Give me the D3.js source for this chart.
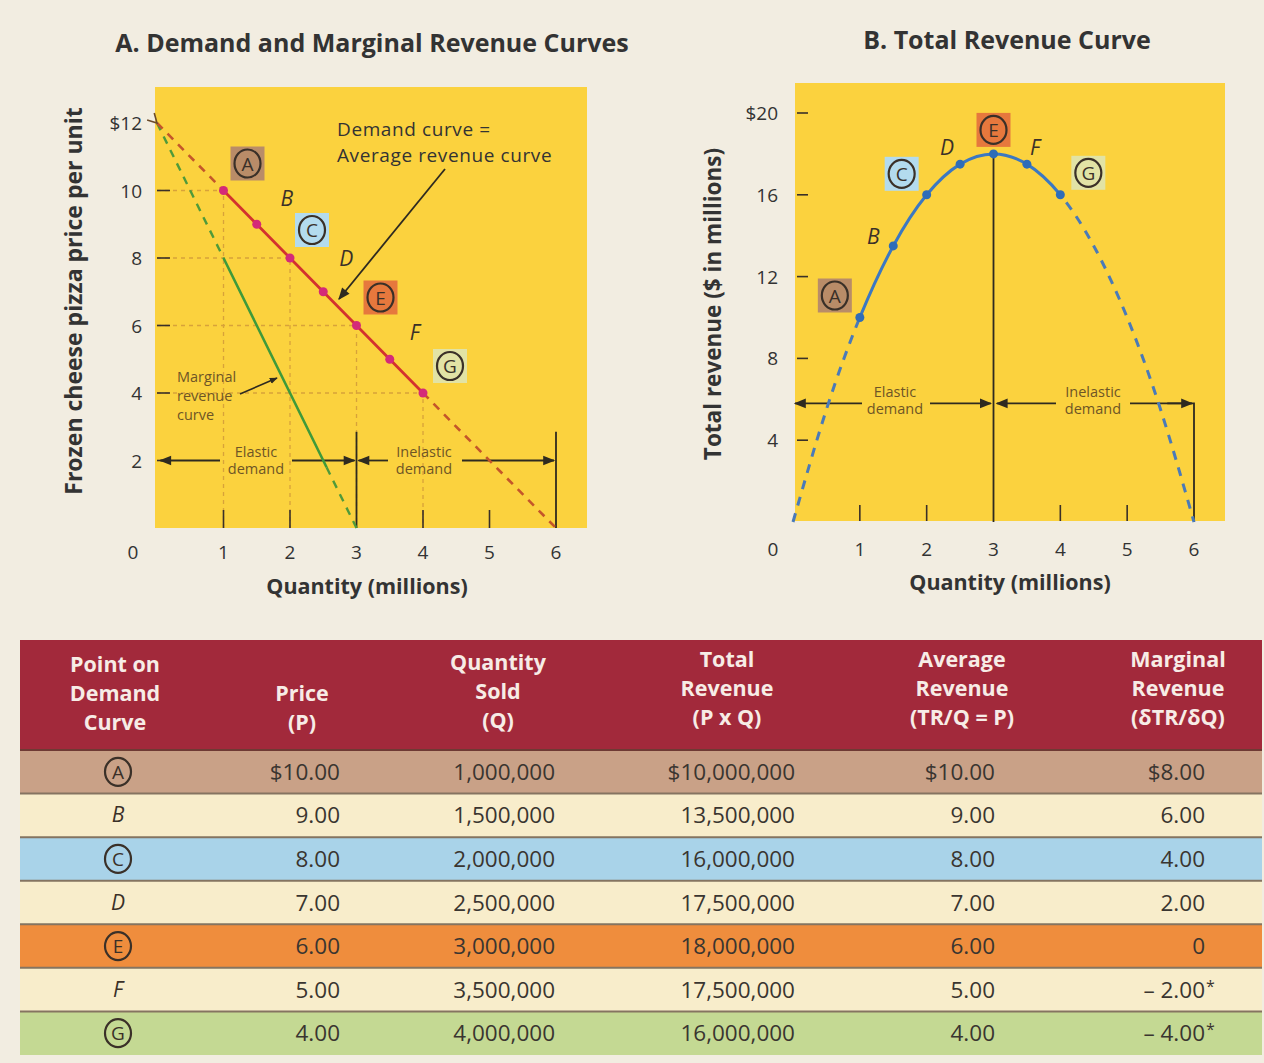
<!DOCTYPE html>
<meta charset="utf-8">
<head>
<script src="https://d3js.org/d3.v7.min.js"></script>
<style>
body { margin: 0; background: #f2ede1; }
svg { display: block; font-family: "Open Sans", Lato, sans-serif; }
</style>
</head>
<body>
<script>
pointNames = ["A", "B", "C", "D", "E", "F", "G"]
circled = [true, false, true, false, true, false, true]
quantity = [1, 1.5, 2, 2.5, 3, 3.5, 4]              // millions
price = [10, 9, 8, 7, 6, 5, 4]                       // $ per unit
totalRevenue = [10, 13.5, 16, 17.5, 18, 17.5, 16]    // $ millions
marginalRevenue = [8, 6, 4, 2, 0, -2, -4]

// dashed extensions of the straight lines
demandLeft = [[0, 12], [1, 10]]
demandRight = [[4, 4], [6, 0]]
mrLeft = [[0, 12], [1, 8]]
mrRight = [[2.55, 1.8], [3, 0]]
mrEnd = [2.55, 1.8]

// whole total revenue curve (dashed outside A..G)
trQuantity = [0, 0.5, 1, 1.5, 2, 2.5, 3, 3.5, 4, 4.5, 5, 5.5, 6]
trValues = [0, 5.5, 10, 13.5, 16, 17.5, 18, 17.5, 16, 13.5, 10, 5.5, 0]

priceTicks = [2, 4, 6, 8, 10, 12]
revenueTicks = [4, 8, 12, 16, 20]
qtyTicks = [1, 2, 3, 4, 5, 6]

headers = [
  ["Point on", "Demand", "Curve"],
  ["", "Price", "(P)"],
  ["Quantity", "Sold", "(Q)"],
  ["Total", "Revenue", "(P x Q)"],
  ["Average", "Revenue", "(TR/Q = P)"],
  ["Marginal", "Revenue", "(\u03B4TR/\u03B4Q)"]
]

// colours
badgeBg = {A: "#b98c68", C: "#b3dbee", E: "#e6783d", G: "#e2e3a5"}
rowColors = ["#c9a187", "#f8edcb", "#a9d3e9", "#f8edcb", "#ef8d3d", "#f8edcb", "#c4d993"]
ink = "#333"

width = 1264
height = 1063

var svg = d3.select("body").append("svg")
  .attr("width", width)
  .attr("height", height)

var defs = svg.append("defs")
defs.append("marker").attr("id", "arr")
  .attr("viewBox", "0 -5 10 10").attr("refX", 9).attr("refY", 0)
  .attr("markerWidth", 8).attr("markerHeight", 8).attr("orient", "auto")
  .attr("markerUnits", "userSpaceOnUse")
  .append("path").attr("d", "M0,-4L10,0L0,4Z").attr("fill", "#2e2a20")
defs.append("marker").attr("id", "arrBig")
  .attr("viewBox", "0 -5 10 10").attr("refX", 9).attr("refY", 0)
  .attr("markerWidth", 14).attr("markerHeight", 12).attr("orient", "auto")
  .attr("markerUnits", "userSpaceOnUse")
  .append("path").attr("d", "M0,-4L10,0L0,4Z").attr("fill", "#2e2a20")
defs.append("marker").attr("id", "open")
  .attr("viewBox", "0 -6 12 12").attr("refX", 1).attr("refY", 0)
  .attr("markerWidth", 12).attr("markerHeight", 12).attr("orient", "auto-start-reverse")
  .attr("markerUnits", "userSpaceOnUse")
  .append("path").attr("d", "M10,-5L1,0L10,5").attr("fill", "none").attr("stroke", "#6a4a2a").attr("stroke-width", 1.6)

function badge(g, x, y, letter, isCircled, bg, r) {
  if (bg) g.append("rect").attr("x", x - 17).attr("y", y - 17)
    .attr("width", 34).attr("height", 34).attr("fill", bg)
  if (isCircled) {
    g.append("ellipse").attr("cx", x).attr("cy", y).attr("rx", r).attr("ry", r + 1)
      .attr("fill", "none").attr("stroke", "#3a3028").attr("stroke-width", 2.2)
    g.append("text").attr("x", x).attr("y", y + 7).attr("text-anchor", "middle")
      .attr("font-size", 19).attr("fill", "#3a3028").text(letter)
  } else {
    g.append("text").attr("x", x).attr("y", y + 7).attr("text-anchor", "middle")
      .attr("font-size", 21).attr("font-style", "italic").attr("fill", "#3a3028").text(letter)
  }
}

var line = d3.line()

function twoLine(g, x, y, a, b, size, gap, col) {
  var t = g.append("text").attr("text-anchor", "middle").attr("font-size", size).attr("fill", col)
  t.append("tspan").attr("x", x).attr("y", y).text(a)
  t.append("tspan").attr("x", x).attr("y", y + gap).text(b)
}
function arrowPair(g, x0, x1, y, gapL, gapR) {
  g.append("line").attr("x1", gapL).attr("x2", x0).attr("y1", y).attr("y2", y)
    .attr("stroke", "#2e2a20").attr("stroke-width", 1.8).attr("marker-end", "url(#arrBig)")
  g.append("line").attr("x1", gapR).attr("x2", x1).attr("y1", y).attr("y2", y)
    .attr("stroke", "#2e2a20").attr("stroke-width", 1.8).attr("marker-end", "url(#arrBig)")
}

// ---------------- Panel A ----------------
var xA = d3.scaleLinear().domain([0, 6]).range([157, 556])
var yA = d3.scaleLinear().domain([0, 12]).range([528, 123])
var gA = svg.append("g")

gA.append("text").attr("x", 372).attr("y", 52).attr("text-anchor", "middle")
  .attr("font-size", 25).attr("font-weight", "bold").attr("fill", ink)
  .text("A. Demand and Marginal Revenue Curves")

gA.append("rect").attr("x", 155).attr("y", 87).attr("width", 432).attr("height", 441)
  .attr("fill", "#fbd23e")

// dotted guides from the axes to the points A, C, E, G
var guideIdx = [0, 2, 4, 6]
guideIdx.forEach(i => {
  gA.append("path")
    .attr("d", line([[xA(0), yA(price[i])], [xA(quantity[i]), yA(price[i])], [xA(quantity[i]), yA(0)]]))
    .attr("fill", "none").attr("stroke", "#d8a23a").attr("stroke-width", 1.3)
    .attr("stroke-dasharray", "4,4")
})

// ticks
gA.selectAll(".ty").data(priceTicks.slice(0, 5)).join("line")
  .attr("x1", xA(0)).attr("x2", xA(0) + 13)
  .attr("y1", d => yA(d)).attr("y2", d => yA(d))
  .attr("stroke", "#3a3028").attr("stroke-width", 1.6)
gA.selectAll(".tx").data([1, 2, 4, 5]).join("line")
  .attr("x1", d => xA(d)).attr("x2", d => xA(d))
  .attr("y1", yA(0) - 18).attr("y2", yA(0))
  .attr("stroke", "#3a3028").attr("stroke-width", 1.6)

gA.selectAll(".ly").data(priceTicks).join("text")
  .attr("x", 142).attr("y", d => yA(d) + 7).attr("text-anchor", "end")
  .attr("font-size", 19).attr("fill", ink)
  .text(d => d === 12 ? "$12" : d)
gA.selectAll(".lx").data(qtyTicks).join("text")
  .attr("x", d => xA(d)).attr("y", 559).attr("text-anchor", "middle")
  .attr("font-size", 19).attr("fill", ink).text(d => d)
gA.append("text").attr("x", 133).attr("y", 559).attr("text-anchor", "middle")
  .attr("font-size", 19).attr("fill", ink).text("0")

gA.append("text").attr("transform", "translate(82,301) rotate(-90)")
  .attr("text-anchor", "middle").attr("font-size", 23).attr("font-weight", "bold")
  .attr("fill", ink).text("Frozen cheese pizza price per unit")
gA.append("text").attr("x", 367).attr("y", 594).attr("text-anchor", "middle")
  .attr("font-size", 21.5).attr("font-weight", "bold").attr("fill", ink)
  .text("Quantity (millions)")

// elastic / inelastic brackets
var armY = 2
;[3, 6].forEach(q => {
  gA.append("line").attr("x1", xA(q)).attr("x2", xA(q))
    .attr("y1", yA(0)).attr("y2", yA(2.85))
    .attr("stroke", "#2e2a20").attr("stroke-width", 1.8)
})
arrowPair(gA, xA(0.05), xA(2.97), yA(armY), 220, 292)
arrowPair(gA, xA(3.03), xA(5.97), yA(armY), 388, 462)
twoLine(gA, 256, yA(armY) - 4, "Elastic", "demand", 14.5, 17, "#6e5526")
twoLine(gA, 424, yA(armY) - 4, "Inelastic", "demand", 14.5, 17, "#6e5526")

// marginal revenue curve
var mrPts = quantity.slice(0, 4).map((q, i) => [xA(q), yA(marginalRevenue[i])])
mrPts.push([xA(mrEnd[0]), yA(mrEnd[1])])
gA.append("path").attr("d", line(mrPts)).attr("fill", "none")
  .attr("stroke", "#3f9a3a").attr("stroke-width", 2.6)
gA.append("path").attr("d", line(mrLeft.map(d => [xA(d[0]), yA(d[1])]))).attr("fill", "none")
  .attr("stroke", "#4f9a3a").attr("stroke-width", 2.4).attr("stroke-dasharray", "8,7")
gA.append("path").attr("d", line(mrRight.map(d => [xA(d[0]), yA(d[1])]))).attr("fill", "none")
  .attr("stroke", "#4f9a3a").attr("stroke-width", 2.4).attr("stroke-dasharray", "8,7")

// demand curve
gA.append("path").attr("d", line(quantity.map((q, i) => [xA(q), yA(price[i])])))
  .attr("fill", "none").attr("stroke", "#d3322e").attr("stroke-width", 2.8)
gA.append("path").attr("d", line(demandLeft.map(d => [xA(d[0]), yA(d[1])])))
  .attr("fill", "none").attr("stroke", "#c4562a").attr("stroke-width", 2.6)
  .attr("stroke-dasharray", "8,7").attr("marker-start", "url(#open)")
gA.append("path").attr("d", line(demandRight.map(d => [xA(d[0]), yA(d[1])])))
  .attr("fill", "none").attr("stroke", "#c4562a").attr("stroke-width", 2.6)
  .attr("stroke-dasharray", "8,7")
gA.selectAll(".dot").data(quantity).join("circle")
  .attr("cx", d => xA(d)).attr("cy", (d, i) => yA(price[i])).attr("r", 4.5)
  .attr("fill", "#d42a78")

// point labels
var offA = [[24, -27], [30, -25], [22, -28], [23, -33], [24, -28], [25, -26], [27, -27]]
pointNames.forEach((n, i) => {
  badge(gA, xA(quantity[i]) + offA[i][0], yA(price[i]) + offA[i][1], n, circled[i], badgeBg[n], 13)
})

// annotations
gA.append("text").attr("x", 337).attr("y", 136).attr("font-size", 19)
  .attr("letter-spacing", 0.6).attr("fill", ink).text("Demand curve =")
gA.append("text").attr("x", 337).attr("y", 162).attr("font-size", 19)
  .attr("letter-spacing", 0.6).attr("fill", ink).text("Average revenue curve")
gA.append("line").attr("x1", 445).attr("y1", 169).attr("x2", 339).attr("y2", 299)
  .attr("stroke", "#2e2a20").attr("stroke-width", 1.8).attr("marker-end", "url(#arrBig)")

var t2 = gA.append("text").attr("font-size", 14.5).attr("fill", "#6e5526")
t2.append("tspan").attr("x", 177).attr("y", 382).text("Marginal")
t2.append("tspan").attr("x", 177).attr("y", 401).text("revenue")
t2.append("tspan").attr("x", 177).attr("y", 420).text("curve")
gA.append("line").attr("x1", 240).attr("y1", 394).attr("x2", 277).attr("y2", 378)
  .attr("stroke", "#2e2a20").attr("stroke-width", 1.6).attr("marker-end", "url(#arr)")

// ---------------- Panel B ----------------
var xB = d3.scaleLinear().domain([0, 6]).range([793, 1194])
var yB = d3.scaleLinear().domain([0, 20]).range([522, 113])
var gB = svg.append("g")

gB.append("text").attr("x", 1007).attr("y", 49).attr("text-anchor", "middle")
  .attr("font-size", 25).attr("font-weight", "bold").attr("fill", ink)
  .text("B. Total Revenue Curve")

gB.append("rect").attr("x", 795).attr("y", 83).attr("width", 430).attr("height", 438)
  .attr("fill", "#fbd23e")

gB.selectAll(".ty").data(revenueTicks).join("line")
  .attr("x1", xB(0) + 4).attr("x2", xB(0) + 15)
  .attr("y1", d => yB(d)).attr("y2", d => yB(d))
  .attr("stroke", "#3a3028").attr("stroke-width", 1.6)
gB.selectAll(".tx").data([1, 2, 4, 5]).join("line")
  .attr("x1", d => xB(d)).attr("x2", d => xB(d))
  .attr("y1", yB(0) - 17).attr("y2", yB(0) - 1)
  .attr("stroke", "#3a3028").attr("stroke-width", 1.6)

gB.selectAll(".ly").data(revenueTicks).join("text")
  .attr("x", 778).attr("y", d => yB(d) + 7).attr("text-anchor", "end")
  .attr("font-size", 19).attr("fill", ink)
  .text(d => d === 20 ? "$20" : d)
gB.selectAll(".lx").data(qtyTicks).join("text")
  .attr("x", d => xB(d)).attr("y", 556).attr("text-anchor", "middle")
  .attr("font-size", 19).attr("fill", ink).text(d => d)
gB.append("text").attr("x", 773).attr("y", 556).attr("text-anchor", "middle")
  .attr("font-size", 19).attr("fill", ink).text("0")

gB.append("text").attr("transform", "translate(721,304) rotate(-90)")
  .attr("text-anchor", "middle").attr("font-size", 22.5).attr("font-weight", "bold")
  .attr("fill", ink).text("Total revenue ($ in millions)")
gB.append("text").attr("x", 1010).attr("y", 590).attr("text-anchor", "middle")
  .attr("font-size", 21.5).attr("font-weight", "bold").attr("fill", ink)
  .text("Quantity (millions)")

// peak line and brackets
var armB = 5.8
gB.append("line").attr("x1", xB(3)).attr("x2", xB(3)).attr("y1", yB(0)).attr("y2", yB(18))
  .attr("stroke", "#2e2a20").attr("stroke-width", 1.8)
gB.append("path").attr("d", line([[xB(5.6), yB(armB)], [xB(6), yB(armB)], [xB(6), yB(0)]]))
  .attr("fill", "none").attr("stroke", "#2e2a20").attr("stroke-width", 1.8)
arrowPair(gB, xB(0.03), xB(2.96), yB(armB), 862, 930)
arrowPair(gB, xB(3.05), xB(5.97), yB(armB), 1056, 1130)
twoLine(gB, 895, yB(armB) - 6, "Elastic", "demand", 14.5, 17, "#6e5526")
twoLine(gB, 1093, yB(armB) - 6, "Inelastic", "demand", 14.5, 17, "#6e5526")

// total revenue curve, clipped into dashed / solid / dashed parts
function clip(id, q0, q1) {
  defs.append("clipPath").attr("id", id).append("rect")
    .attr("x", xB(q0)).attr("y", 60).attr("width", xB(q1) - xB(q0)).attr("height", 480)
}
clip("trL", -0.2, quantity[0])
clip("trM", quantity[0], quantity[6])
clip("trR", quantity[6], 6.2)
var trLine = d3.line().x((d, i) => xB(trQuantity[i])).y(d => yB(d)).curve(d3.curveNatural)
var trD = trLine(trValues)
gB.append("path").attr("d", trD).attr("clip-path", "url(#trM)")
  .attr("fill", "none").attr("stroke", "#3b78c2").attr("stroke-width", 3)
;["trL", "trR"].forEach(id => {
  gB.append("path").attr("d", trD).attr("clip-path", `url(#${id})`)
    .attr("fill", "none").attr("stroke", "#4a7ab8").attr("stroke-width", 3)
    .attr("stroke-dasharray", "9,8")
})
gB.selectAll(".dot").data(quantity).join("circle")
  .attr("cx", d => xB(d)).attr("cy", (d, i) => yB(totalRevenue[i])).attr("r", 4.5)
  .attr("fill", "#2f6db8")

var offB = [[-25, -22], [-20, -9], [-25, -21], [-13, -16], [0, -24], [8, -16], [28, -22]]
pointNames.forEach((n, i) => {
  badge(gB, xB(quantity[i]) + offB[i][0], yB(totalRevenue[i]) + offB[i][1], n, circled[i], badgeBg[n], 13)
})

// ---------------- Table ----------------
var gT = svg.append("g")
var rowY = d3.scaleBand().domain(pointNames).range([750, 1055])
var colCenter = [115, 302, 498, 727, 962, 1178]
var colRight = [118, 340, 555, 795, 995, 1205]

gT.append("rect").attr("x", 20).attr("y", 640).attr("width", 1242).attr("height", 110)
  .attr("fill", "#a2293b")
headers.forEach((h, c) => {
  h.forEach((s, k) => {
    if (!s) return
    gT.append("text").attr("x", colCenter[c])
      .attr("y", (c === 1 ? 672 : 670) + k * 29 + (c === 0 ? 2 : 0) - (c >= 3 ? 3 : 0))
      .attr("text-anchor", "middle").attr("font-size", 21.5).attr("font-weight", "bold")
      .attr("fill", "#f7ece6").text(s)
  })
})

gT.selectAll(".row").data(pointNames).join("rect")
  .attr("x", 20).attr("y", d => rowY(d)).attr("width", 1242).attr("height", rowY.bandwidth())
  .attr("fill", (d, i) => rowColors[i])
gT.selectAll(".sep").data(pointNames.slice(1)).join("line")
  .attr("x1", 20).attr("x2", 1262).attr("y1", d => rowY(d)).attr("y2", d => rowY(d))
  .attr("stroke", "#857461").attr("stroke-width", 2)
gT.append("line").attr("x1", 20).attr("x2", 1262).attr("y1", 750).attr("y2", 750)
  .attr("stroke", "#6e3a34").attr("stroke-width", 2)

var money = d3.format(",.2f")
var count = d3.format(",")
pointNames.forEach((n, i) => {
  var cy = rowY(n) + rowY.bandwidth() / 2
  badge(gT, colCenter[0] + 3, cy, n, circled[i], null, 13)
  var cells = [
    (i === 0 ? "$" : "") + money(price[i]),
    count(quantity[i] * 1e6),
    (i === 0 ? "$" : "") + count(totalRevenue[i] * 1e6),
    (i === 0 ? "$" : "") + money(price[i]),
    marginalRevenue[i] === 0 ? "0" :
      marginalRevenue[i] < 0 ? "\u2013 " + money(-marginalRevenue[i]) :
      (i === 0 ? "$" : "") + money(marginalRevenue[i])
  ]
  cells.forEach((s, c) => {
    gT.append("text").attr("x", colRight[c + 1]).attr("y", cy + 8)
      .attr("text-anchor", "end").attr("font-size", 22.5).attr("fill", "#3a3530").text(s)
  })
  if (marginalRevenue[i] < 0) {
    gT.append("text").attr("x", colRight[5] + 1).attr("y", cy + 2)
      .attr("font-size", 16).attr("fill", "#3a3530").text("*")
  }
})
</script>
</body>
